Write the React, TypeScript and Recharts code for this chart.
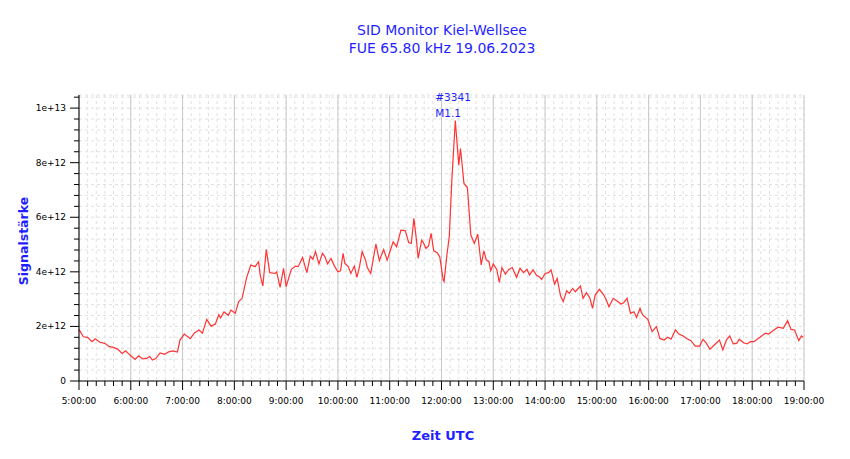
import { LineChart, Line, XAxis, YAxis, CartesianGrid, ReferenceLine, ReferenceDot } from 'recharts';

// minutes after 05:00 UTC
const minutesAfterFive = [
    0, 5, 10, 15, 19, 24, 30, 35, 40, 45, 50, 54, 59, 65, 69, 74, 79, 82, 85, 89,
    94, 99, 104, 109, 114, 117, 122, 129, 134, 139, 143, 148, 153, 158, 162, 164, 168, 173, 176, 181,
    185, 189, 194, 199, 204, 208, 210, 213, 217, 221, 227, 229, 233, 237, 240, 246, 251, 254, 259, 264,
    268, 271, 274, 278, 282, 285, 288, 292, 296, 300, 303, 306, 308, 312, 315, 319, 322, 325, 328, 332,
    334, 338, 344, 348, 353, 357, 364, 368, 373, 378, 382, 385, 388, 391, 393, 397, 399, 402, 405, 408,
    411, 415, 418, 422, 423, 426, 429, 432, 436, 440, 442, 446, 450, 454, 458, 462, 466, 469, 472, 475,
    477, 480, 484, 487, 490, 494, 498, 502, 507, 511, 515, 519, 522, 526, 530, 534, 536, 540, 544, 547,
    551, 554, 558, 561, 565, 568, 572, 575, 581, 584, 588, 592, 595, 598, 603, 608, 611, 614, 619, 623,
    628, 631, 635, 639, 643, 646, 650, 653, 659, 664, 669, 673, 678, 682, 686, 691, 695, 700, 704, 709,
    714, 719, 723, 727, 731, 736, 742, 746, 750, 754, 758, 762, 765, 770, 774, 778, 782, 789, 795, 799,
    804, 810, 816, 821, 825, 829, 834, 837, 839,
];

// signal strength in units of 1e12
const signalE12 = [
    1.89, 1.62, 1.6, 1.44, 1.55, 1.42, 1.38, 1.26, 1.23, 1.16, 1.01, 1.11, 0.95, 0.79, 0.92, 0.81, 0.84, 0.9, 0.77, 0.82,
    1.03, 0.98, 1.07, 1.1, 1.06, 1.5, 1.72, 1.55, 1.77, 1.87, 1.75, 2.26, 2.01, 2.09, 2.43, 2.31, 2.53, 2.41, 2.6, 2.48,
    2.91, 3.03, 3.76, 4.25, 4.19, 4.37, 3.88, 3.48, 4.82, 3.97, 3.94, 4.0, 3.43, 4.13, 3.46, 4.09, 4.21, 4.19, 4.53, 3.97,
    4.58, 4.46, 4.74, 4.29, 4.68, 4.55, 4.29, 4.49, 4.21, 4.0, 4.04, 4.68, 4.31, 4.19, 3.94, 4.21, 3.8, 4.19, 4.74, 4.43,
    4.16, 3.94, 5.02, 4.41, 4.82, 4.43, 5.1, 4.92, 5.53, 5.51, 5.07, 5.04, 5.96, 5.16, 4.49, 5.16, 5.07, 4.86, 4.95, 5.41,
    4.77, 4.7, 4.55, 3.7, 3.64, 4.55, 5.29, 7.36, 9.54, 7.91, 8.52, 7.24, 7.09, 5.35, 5.04, 5.38, 4.25, 4.77, 4.43, 4.37,
    4.04, 4.29, 4.09, 3.61, 4.16, 3.92, 4.09, 4.16, 3.8, 4.13, 3.97, 4.09, 3.88, 4.07, 3.88, 3.8, 3.72, 3.94, 3.97, 4.07,
    3.55, 3.76, 3.11, 2.91, 3.31, 3.21, 3.39, 3.27, 3.48, 3.03, 3.24, 3.03, 2.66, 3.15, 3.36, 3.15, 2.97, 2.72, 3.03, 2.94,
    2.82, 2.87, 3.03, 2.48, 2.54, 2.33, 2.66, 2.42, 2.26, 1.81, 1.99, 1.56, 1.5, 1.6, 1.53, 1.87, 1.72, 1.65, 1.56, 1.48,
    1.28, 1.28, 1.53, 1.38, 1.16, 1.32, 1.5, 1.14, 1.5, 1.65, 1.36, 1.38, 1.53, 1.4, 1.36, 1.44, 1.44, 1.6, 1.75, 1.72,
    1.84, 1.97, 1.93, 2.21, 1.89, 1.87, 1.48, 1.65, 1.6,
];

const hourLabels = [
    '5:00:00', '6:00:00', '7:00:00', '8:00:00', '9:00:00', '10:00:00', '11:00:00', '12:00:00',
    '13:00:00', '14:00:00', '15:00:00', '16:00:00', '17:00:00', '18:00:00', '19:00:00',
];

const eventLabels = ['#3341', 'M1.1'];
const eventMinute = 436;
const eventPeakE12 = 9.54;

const data = minutesAfterFive.map((m, i) => ({ t: m, v: signalE12[i] * 1e12 }));

const xTicks = Array.from({ length: 85 }, (_, i) => i * 10);
const yTicks = Array.from({ length: 27 }, (_, i) => i * 4e11);

const BLUE = '#1f1fff';
const FONT = '"DejaVu Sans", Verdana, sans-serif';

const XTick = (props: any) => {
    const { x, y, payload } = props;
    const m = payload.value;
    const major = m % 60 === 0;
    return <g>
        <line x1={x} x2={x} y1={y} y2={y + (major ? 9 : 5)} stroke="#000" />
        {major && <text x={x} y={y + 23} textAnchor="middle" fontSize={9} fontFamily={FONT} fill="#000">
            {hourLabels[m / 60]}
        </text>}
    </g>
}

const yLabel = (v: number) => {
    if (v === 0) return '0';
    if (v >= 1e13) return (v / 1e13) + 'e+13';
    return (v / 1e12) + 'e+12';
}

const YTick = (props: any) => {
    const { x, y, payload } = props;
    const k = Math.round(payload.value / 4e11);
    const major = k % 5 === 0;
    return <g>
        <line x1={x - (major ? 9 : 5)} x2={x} y1={y} y2={y} stroke="#000" />
        {major && <text x={x - 13} y={y + 3} textAnchor="end" fontSize={9} fontFamily={FONT} fill="#000">
            {yLabel(payload.value)}
        </text>}
    </g>
}

const EventMark = (props: any) => {
    const { cx, cy } = props;
    return <g fontFamily={FONT} fontSize={10.5} fill={BLUE}>
        <text x={cx - 20} y={cy - 20}>{eventLabels[0]}</text>
        <text x={cx - 20} y={cy - 4}>{eventLabels[1]}</text>
    </g>
}

export default function App() {
    return <div style={{ position: 'absolute', left: 0, top: 0, width: 850, height: 459, background: '#fff', fontFamily: FONT }}>
        <div style={{ position: 'absolute', left: 0, width: 884, top: 21, textAlign: 'center', color: BLUE, fontSize: 14, lineHeight: '18px' }}>
            SID Monitor Kiel-Wellsee<br />FUE 65.80 kHz 19.06.2023
        </div>
        <div style={{ position: 'absolute', left: 23, top: 241, width: 0, height: 0 }}>
            <div style={{ position: 'absolute', transform: 'translate(-50%, -50%) rotate(-90deg)', whiteSpace: 'nowrap', color: BLUE, fontWeight: 'bold', fontSize: 12.5 }}>
                Signalstärke
            </div>
        </div>
        <div style={{ position: 'absolute', left: 0, width: 886, top: 428, textAlign: 'center', color: BLUE, fontWeight: 'bold', fontSize: 13 }}>
            Zeit UTC
        </div>
        <div style={{ position: 'absolute', left: 0, top: 0 }}>
            <LineChart
                width={850}
                height={459}
                data={data}
                margin={{ top: 95, right: 46, bottom: 38, left: 19 }}
            >
                <CartesianGrid stroke="#e0e0e0" strokeDasharray="3 3" />
                {hourLabels.map((_, i) => <ReferenceLine key={i} x={i * 60} stroke="#c8c8c8" />)}
                <XAxis
                    dataKey="t"
                    type="number"
                    domain={[0, 840]}
                    ticks={xTicks}
                    interval={0}
                    height={40}
                    tickSize={0}
                    tickMargin={0}
                    tickLine={false}
                    axisLine={{ stroke: '#000' }}
                    tick={<XTick />}
                />
                <YAxis
                    type="number"
                    domain={[0, 1.048e13]}
                    allowDataOverflow
                    ticks={yTicks}
                    interval={0}
                    width={60}
                    tickSize={0}
                    tickMargin={0}
                    tickLine={false}
                    axisLine={{ stroke: '#000' }}
                    tick={<YTick />}
                />
                <Line type="linear" dataKey="v" stroke="#ff3333" strokeWidth={1.2} dot={false} isAnimationActive={false} />
                <ReferenceDot x={eventMinute} y={eventPeakE12 * 1e12} r={0} shape={<EventMark />} />
            </LineChart>
        </div>
    </div>
}
